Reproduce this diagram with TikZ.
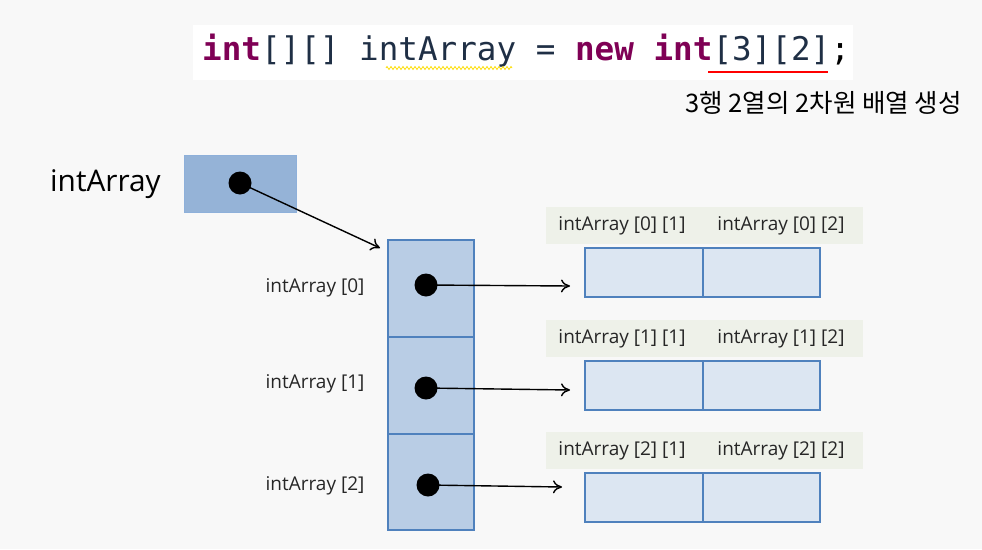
\documentclass[tikz,border=0pt]{standalone}
\usepackage{fontspec}
\setmainfont{Open Sans}
\newfontfamily\krfont{Noto Sans CJK KR}
\newfontfamily\codefont{DejaVu Sans Mono}
\usetikzlibrary{arrows.meta,decorations.pathmorphing}
\definecolor{bgc}{HTML}{F8F8F8}
\definecolor{ptrfill}{HTML}{95B3D7}
\definecolor{ptrline}{HTML}{8EB0DA}
\definecolor{colfill}{HTML}{B9CDE5}
\definecolor{celline}{HTML}{4F81BD}
\definecolor{cellfill}{HTML}{DCE6F2}
\definecolor{stripfill}{HTML}{EEF1E9}
\definecolor{kw}{HTML}{7F0055}
\definecolor{codetxt}{HTML}{1F2F45}
\tikzset{
  cellbox/.style={draw=celline, line width=1.2pt, fill=cellfill},
  colbox/.style={draw=celline, line width=1.2pt, fill=colfill},
  dotc/.style={circle, fill=black, inner sep=0pt, minimum size=23pt},
  ptr/.style={-{To[length=9pt,width=13pt]}, line width=1.4pt},
  lbl/.style={font=\fontsize{19}{22}\selectfont, inner sep=0pt, text=black!85},
  strip/.style={fill=stripfill, draw=none},
}
\begin{document}
\begin{tikzpicture}[x=1pt,y=-1pt]
\fill[bgc] (0,0) rectangle (982,549);
\useasboundingbox (0,0) rectangle (982,549);
% code line
\fill[white] (193,25) rectangle (853,80);
\node[anchor=west, inner sep=0pt, font=\codefont\fontsize{32.6}{36}\selectfont] (code) at (202,51)
  {\textcolor{kw}{\bfseries int}\textcolor{codetxt}{[][] intArray = }\textcolor{kw}{\bfseries new} \textcolor{kw}{\bfseries int}\textcolor{codetxt}{[3][2]};};
\draw[yellow!80!orange, line width=0.8pt, decorate, decoration={zigzag, amplitude=1.5pt, segment length=4pt}] (386,68) -- (512,68);
\draw[red, line width=2.2pt] (708,72) -- (828,72);
\node[anchor=east, inner sep=0pt, font=\krfont\fontsize{25.5}{28}\selectfont] (kr) at (962,103) {3행 2열의 2차원 배열 생성};
% pointer variable
\node[anchor=west, inner sep=0pt, font=\fontsize{29.8}{34}\selectfont] (name) at (50,184) {intArray};
\draw[draw=ptrline, fill=ptrfill, line width=1pt] (184,155) rectangle (296,212);
\node[dotc] (d) at (240,183) {};
% column
\draw[colbox] (388,240) rectangle (474,337);
\draw[colbox] (388,337) rectangle (474,434);
\draw[colbox] (388,434) rectangle (474,530);
\coordinate (colin) at (380,248);
\draw[ptr] (d.center) -- (colin);
\node[dotc] (d0) at (426,285) {};
\node[dotc] (d1) at (426,388) {};
\node[dotc] (d2) at (428,485) {};
\node[lbl] (l0) at (315,288) {intArray [0]};
\node[lbl] (l1) at (315,384) {intArray [1]};
\node[lbl] (l2) at (315,486) {intArray [2]};
% rows
\foreach \i/\t/\c in {0/207/248, 1/320/361, 2/432/473}{
  \fill[stripfill] (546,\t) rectangle (863,\t+37);
  \node[lbl] (a\i1) at (622,\t+18.5) {intArray [\i] [1]};
  \node[lbl] (a\i2) at (781,\t+18.5) {intArray [\i] [2]};
  \draw[cellbox] (585,\c) rectangle (703,\c+49);
  \draw[cellbox] (703,\c) rectangle (820,\c+49);
}
\coordinate (r0) at (570,286);
\coordinate (r1) at (570,390);
\coordinate (r2) at (562,487);
\draw[ptr] (d0.center) -- (r0);
\draw[ptr] (d1.center) -- (r1);
\draw[ptr] (d2.center) -- (r2);
\end{tikzpicture}
\end{document}
